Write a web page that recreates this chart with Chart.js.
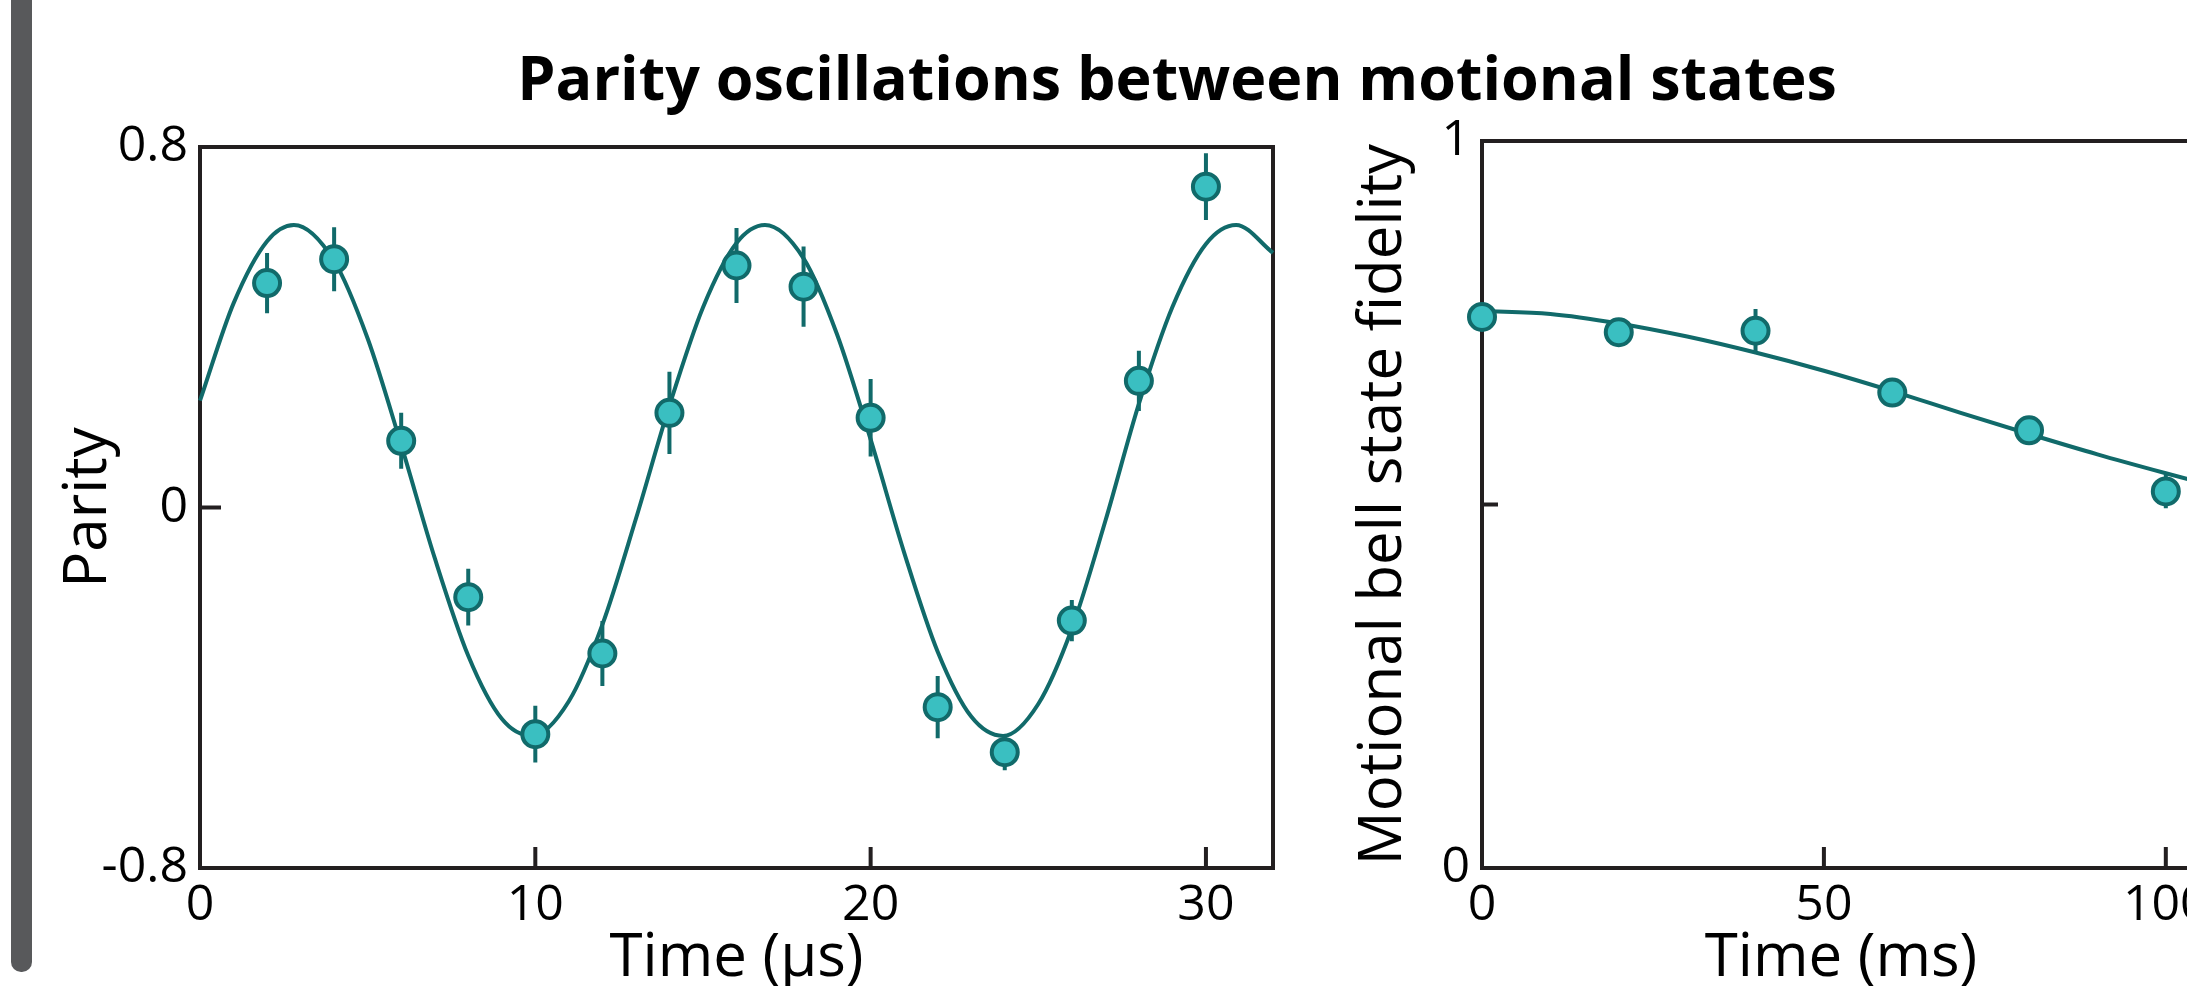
<!DOCTYPE html>
<html>
<head>
<meta charset="utf-8">
<title>Parity oscillations between motional states</title>
<script src="https://cdn.jsdelivr.net/npm/chart.js@4.4.1/dist/chart.umd.min.js"></script>
<style>
  html, body { margin: 0; padding: 0; background: #fff; }
  body { width: 2187px; height: 986px; position: relative; overflow: hidden; font-family: 'Open Sans', sans-serif; }
  #bar { position: absolute; left: 11px; top: -20px; width: 21px; height: 992px; background: #58595b; border-radius: 0 0 10px 10px; }
  #title { position: absolute; left: 1177px; top: 46px; transform: translateX(-50%); white-space: nowrap;
           font-size: 61px; line-height: 1; font-weight: 700; color: #000; }
  .box { position: absolute; top: 0; }
  #box1 { left: 0; }
  #box2 { left: 1300px; }
</style>
</head>
<body>
<div id="bar"></div>
<div id="title">Parity oscillations between motional states</div>
<div class="box" id="box1"><canvas id="parityChart" width="1300" height="986"></canvas></div>
<div class="box" id="box2"><canvas id="fidelityChart" width="920" height="986"></canvas></div>

<script>
// Left panel: parity vs time (us)
const parityTime = [2, 4, 6, 8, 10, 12, 14, 16, 18, 20, 22, 24, 26, 28, 30];
const parityValues = [0.498, 0.551, 0.148, -0.199, -0.503, -0.324, 0.21, 0.537, 0.49, 0.199, -0.443, -0.543, -0.251, 0.281, 0.712];
const parityErrors = [0.067, 0.071, 0.062, 0.063, 0.063, 0.072, 0.091, 0.083, 0.089, 0.086, 0.069, 0.04, 0.046, 0.067, 0.074];

// fit curve
const parityFitTime = [0, 1, 2, 2.8, 4, 5, 6, 7, 8, 9, 9.9, 11, 12, 13, 14, 15, 16, 16.85, 18, 19, 20, 21, 22, 23, 23.95, 25, 26, 27, 28, 29, 30, 30.9, 32];
const parityFitValues = [0.237, 0.453, 0.591, 0.627, 0.547, 0.375, 0.139, -0.112, -0.329, -0.469, -0.507, -0.430, -0.260, -0.025, 0.226, 0.444, 0.587, 0.627, 0.553, 0.384, 0.151, -0.100, -0.320, -0.464, -0.507, -0.436, -0.269, -0.030, 0.230, 0.445, 0.585, 0.627, 0.565];

// Right panel: fidelity vs time (ms)
const fidelityTime = [0, 20, 40, 60, 80, 100];
const fidelityValues = [0.758, 0.737, 0.739, 0.654, 0.602, 0.518];
const fidelityErrors = [0.01, 0.013, 0.03, 0.012, 0.012, 0.023];

const fidelityFitTime = [0, 10, 20, 30, 40, 50, 60, 70, 80, 90, 100, 110];
const fidelityFitValues = [0.766, 0.762, 0.749, 0.731, 0.709, 0.684, 0.656, 0.626, 0.597, 0.569, 0.543, 0.518];

const lineColor = "#116a6a";
const fillColor = "#3abfc1";
const axisColor = "#231f20";

Chart.defaults.font.family = "'Open Sans', sans-serif";
Chart.defaults.color = "#000";

function toPoints(xs, ys) {
  return xs.map((x, i) => ({ x: x, y: ys[i] }));
}

function fmt(v) {
  return parseFloat(v.toFixed(2)).toString();
}

// frame, inward ticks and error bars
const framePlugin = {
  id: "frame",
  beforeDatasetsDraw(chart, args, opts) {
    const { ctx, chartArea: a, scales } = chart;
    ctx.save();
    ctx.strokeStyle = axisColor;
    ctx.lineWidth = 4;
    ctx.strokeRect(a.left, a.top, a.right - a.left, a.bottom - a.top);
    ctx.beginPath();
    scales.x.ticks.forEach(t => {
      if (t.value <= scales.x.min || t.value >= scales.x.max) return;
      const px = scales.x.getPixelForValue(t.value);
      ctx.moveTo(px, a.bottom);
      ctx.lineTo(px, a.bottom - opts.xLen);
    });
    scales.y.ticks.forEach(t => {
      if (t.value <= scales.y.min || t.value >= scales.y.max) return;
      const py = scales.y.getPixelForValue(t.value);
      ctx.moveTo(a.left, py);
      ctx.lineTo(a.left + opts.yLen, py);
    });
    ctx.stroke();
    ctx.restore();
  },
  beforeDatasetDraw(chart, args, opts) {
    if (args.index !== 0) return;
    const { ctx, scales } = chart;
    const data = chart.data.datasets[0].data;
    ctx.save();
    ctx.strokeStyle = lineColor;
    ctx.lineWidth = 4;
    ctx.beginPath();
    data.forEach((p, i) => {
      const px = scales.x.getPixelForValue(p.x);
      ctx.moveTo(px, scales.y.getPixelForValue(p.y - opts.errors[i]));
      ctx.lineTo(px, scales.y.getPixelForValue(p.y + opts.errors[i]));
    });
    ctx.stroke();
    ctx.restore();
  }
};

function makeChart(id, cfg) {
  return new Chart(document.getElementById(id), {
    type: "scatter",
    data: {
      datasets: [
        {
          data: toPoints(cfg.xs, cfg.ys),
          pointRadius: 13,
          pointBorderWidth: 4,
          pointBackgroundColor: fillColor,
          pointBorderColor: lineColor,
          clip: false
        },
        {
          data: toPoints(cfg.fitXs, cfg.fitYs),
          showLine: true,
          pointRadius: 0,
          borderColor: lineColor,
          borderWidth: 4,
          cubicInterpolationMode: "monotone",
          clip: false
        }
      ]
    },
    options: {
      responsive: false,
      animation: false,
      devicePixelRatio: 1,
      layout: { padding: cfg.padding },
      plugins: {
        legend: { display: false },
        tooltip: { enabled: false },
        frame: { errors: cfg.errors, xLen: 21, yLen: cfg.yLen }
      },
      scales: {
        x: {
          type: "linear",
          min: cfg.xMin,
          max: cfg.xMax,
          grid: { display: false },
          border: { display: false },
          ticks: { stepSize: cfg.xStep, includeBounds: false, padding: 0, font: { size: 50 }, color: "#000", maxRotation: 0 },
          title: { display: true, text: cfg.xTitle, font: { size: 60 }, color: "#000", padding: { top: 0, bottom: -9 } },
          afterFit(scale) { scale.height = 118; }
        },
        y: {
          type: "linear",
          min: cfg.yMin,
          max: cfg.yMax,
          grid: { display: false },
          border: { display: false },
          ticks: { stepSize: cfg.yStep, includeBounds: false, padding: 4, font: { size: 50 }, color: "#000", callback: cfg.yLabel },
          title: { display: true, text: cfg.yTitle, font: { size: 60 }, color: "#000", padding: { top: cfg.yTitlePad, bottom: 0 } },
          afterFit(scale) { scale.width = cfg.yWidth; }
        }
      }
    },
    plugins: [framePlugin]
  });
}

makeChart("parityChart", {
  xs: parityTime, ys: parityValues, errors: parityErrors,
  fitXs: parityFitTime, fitYs: parityFitValues,
  xMin: 0, xMax: 32, xStep: 10,
  yMin: -0.8, yMax: 0.8, yStep: 0.8,
  yLabel: v => fmt(v),
  xTitle: "Time (\u00b5s)", yTitle: "Parity",
  padding: { left: 0, top: 147, right: 27, bottom: 0 },
  yWidth: 200, yTitlePad: 53, yLen: 21
});

makeChart("fidelityChart", {
  xs: fidelityTime, ys: fidelityValues, errors: fidelityErrors,
  fitXs: fidelityFitTime, fitYs: fidelityFitValues,
  xMin: 0, xMax: 105, xStep: 50,
  yMin: 0, yMax: 1, yStep: 0.5,
  yLabel: v => (v === 0.5 ? "" : fmt(v)),
  xTitle: "Time (ms)", yTitle: "Motional bell state fidelity",
  padding: { left: 0, top: 141, right: 20, bottom: 0 },
  yWidth: 182, yTitlePad: 48, yLen: 16
});
</script>
</body>
</html>
